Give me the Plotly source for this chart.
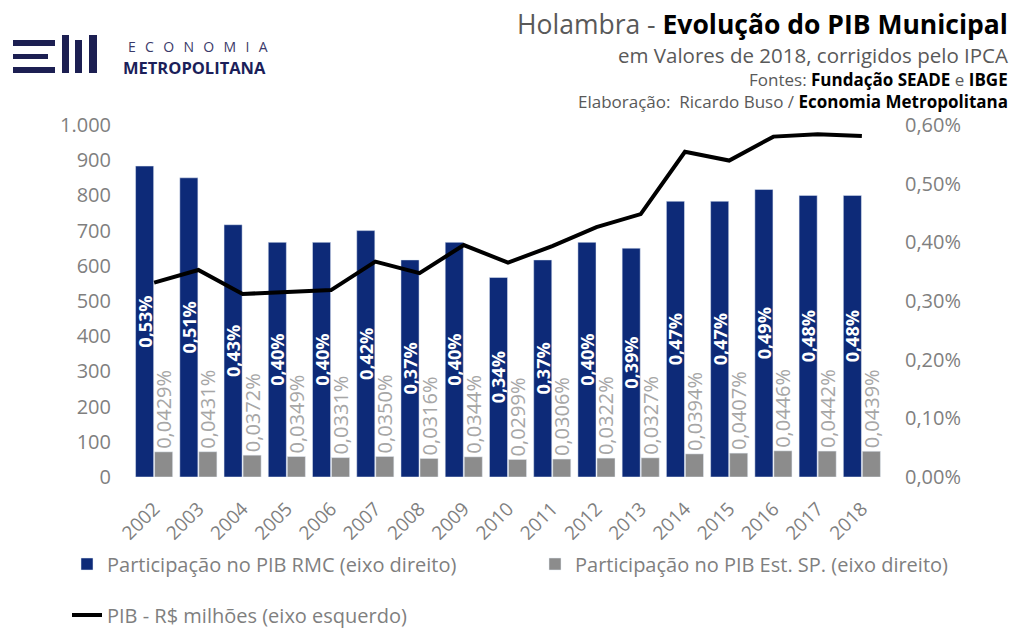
import plotly.graph_objects as go

years = ["2002", "2003", "2004", "2005", "2006", "2007", "2008", "2009", "2010",
         "2011", "2012", "2013", "2014", "2015", "2016", "2017", "2018"]
part_rmc = [0.0053, 0.0051, 0.0043, 0.0040, 0.0040, 0.0042, 0.0037, 0.0040, 0.0034,
            0.0037, 0.0040, 0.0039, 0.0047, 0.0047, 0.0049, 0.0048, 0.0048]
part_sp = [0.000429, 0.000431, 0.000372, 0.000349, 0.000331, 0.000350, 0.000316, 0.000344, 0.000299,
           0.000306, 0.000322, 0.000327, 0.000394, 0.000407, 0.000446, 0.000442, 0.000439]
pib = [552, 588, 520, 525, 531, 612, 579, 659, 609, 656, 710, 747, 924, 899, 967, 974, 969]

W, H = 1022, 629
L, R, T, B = 132, 138, 125, 152
PW, PH = W - L - R, H - T - B


def X(px):
    return (px - L) / PW


def Y(py):
    return (H - B - py) / PH


NAVY = "#0d2a78"
GRAY = "#8c8c8c"
TXT = "#7f7f7f"
FONT = "Open Sans"

fig = go.Figure()
fig.add_trace(go.Bar(
    x=years, y=part_rmc, name="Participação no PIB RMC (eixo direito)",
    marker=dict(color=NAVY), yaxis="y",
    texttemplate="%{y:.2%}", textposition="inside", insidetextanchor="middle",
    textangle=-90, constraintext="none",
    insidetextfont=dict(color="white", size=18, family=FONT, weight=700),
    legend="legend", showlegend=True,
))
fig.add_trace(go.Bar(
    x=years, y=part_sp, name="Participação no PIB Est. SP. (eixo direito)",
    marker=dict(color=GRAY), yaxis="y",
    texttemplate="%{y:.4%}", textposition="outside",
    textangle=-90, constraintext="none", cliponaxis=False,
    outsidetextfont=dict(color="#a6a6a6", size=20, family=FONT),
    legend="legend3", showlegend=True,
))
fig.add_trace(go.Scatter(
    x=years, y=pib, name="PIB - R$ milhões (eixo esquerdo)",
    mode="lines", line=dict(color="black", width=4), yaxis="y2",
    legend="legend2", showlegend=True,
))

annotations = [
    dict(x=X(1010), y=Y(24), xanchor="right", yanchor="middle",
         text="<span style='color:#595959'>Holambra - </span><b>Evolução do PIB Municipal</b>",
         font=dict(size=26.5, family=FONT, color="black")),
    dict(x=X(1010), y=Y(55), xanchor="right", yanchor="middle",
         text="em Valores de 2018, corrigidos pelo IPCA",
         font=dict(size=20.5, family=FONT, color="#595959")),
    dict(x=X(1010), y=Y(79), xanchor="right", yanchor="middle",
         text="Fontes: <b style='color:black'>Fundação SEADE</b> e <b style='color:black'>IBGE</b>",
         font=dict(size=17, family=FONT, color="#595959")),
    dict(x=X(1010), y=Y(101), xanchor="right", yanchor="middle",
         text="Elaboração:  Ricardo Buso / <b style='color:black'>Economia Metropolitana</b>",
         font=dict(size=17, family=FONT, color="#595959")),
    dict(x=X(126), y=Y(47), xanchor="left", yanchor="middle",
         text="\u2002\u2009".join("ECONOMIA"),
         font=dict(size=14, family=FONT, color="#3a3a6a")),
    dict(x=X(121), y=Y(67), xanchor="left", yanchor="middle",
         text="<b>METROPOLITANA</b>",
         font=dict(size=16.5, family=FONT, color="#1c1f5a")),
]
for a in annotations:
    a.update(xref="paper", yref="paper", showarrow=False)

LOGO = "#1c1f52"
shapes = []
for (x0, x1, y0, y1) in [(13, 55, 40, 46), (13, 48, 54, 59), (13, 55, 67, 73),
                         (62, 69, 35, 73), (75, 82, 40, 73), (89, 97, 35, 73)]:
    shapes.append(dict(type="rect", xref="paper", yref="paper",
                       x0=X(x0), x1=X(x1), y0=Y(y1), y1=Y(y0),
                       fillcolor=LOGO, line=dict(width=0)))

legend_common = dict(orientation="h", xanchor="left", yanchor="middle", visible=True,
                     font=dict(size=20, color=TXT, family=FONT),
                     bgcolor="rgba(0,0,0,0)")

fig.update_layout(
    width=W, height=H,
    margin=dict(l=L, r=R, t=T, b=B, autoexpand=False),
    paper_bgcolor="white", plot_bgcolor="white",
    separators=",.",
    showlegend=True,
    barmode="group", bargap=0.14, bargroupgap=0.05,
    font=dict(family=FONT, color=TXT, size=18),
    xaxis=dict(type="category", tickangle=-45, showgrid=False, showline=False,
               ticks="", tickfont=dict(size=19, color=TXT), ticklabelstandoff=16),
    yaxis=dict(side="right", range=[0, 0.006], dtick=0.001, tickformat=".2%",
               showgrid=False, zeroline=False, showline=False, ticks="",
               tickfont=dict(size=20, color=TXT), ticklabelstandoff=20),
    yaxis2=dict(side="left", overlaying="y", range=[0, 1000], dtick=100, tickformat=",d",
                showgrid=False, zeroline=False, showline=False, ticks="",
                tickfont=dict(size=20, color=TXT), ticklabelstandoff=20),
    legend=dict(x=X(67), y=Y(564), **legend_common),
    legend3=dict(x=X(535), y=Y(564), **legend_common),
    legend2=dict(x=X(67), y=Y(615), **legend_common),
    annotations=annotations,
    shapes=shapes,
)

fig.write_html("out.html", config={"displayModeBar": False},
               post_script="document.body.style.margin='0';")
